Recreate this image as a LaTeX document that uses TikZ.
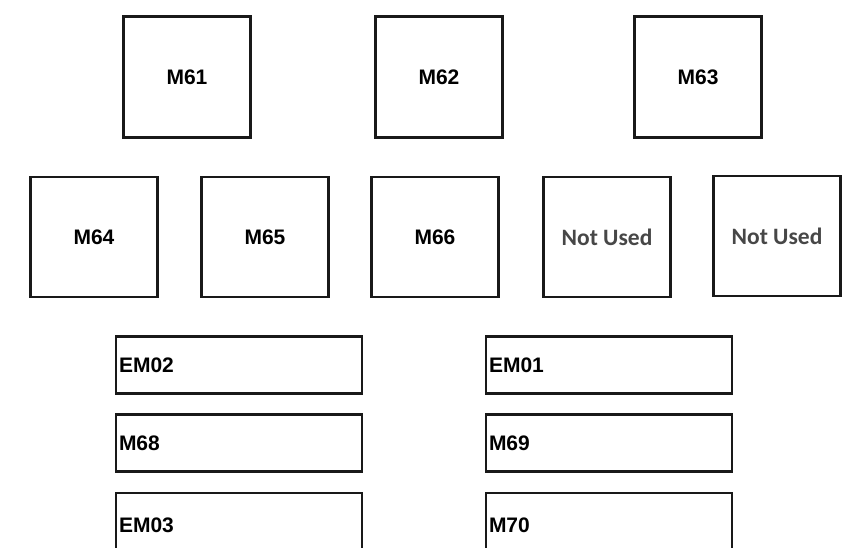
\documentclass[tikz,border=0pt]{standalone}
\usepackage{fontspec}
\setmainfont{Liberation Sans}
\newfontfamily\carlito{Carlito}
\begin{document}
\begin{tikzpicture}[x=1pt,y=-1pt,
  sq/.style={draw=black!90, line width=2.2pt, minimum width=127pt, minimum height=120pt, inner sep=0pt,
     font=\fontsize{21}{24}\selectfont\bfseries},
  nu/.style={sq, font=\carlito\fontsize{23.5}{26}\selectfont\bfseries, text=black!72},
  wide/.style={draw=black!90, line width=2.2pt, minimum height=57pt, text width=240pt, inner xsep=3pt,
     inner ysep=0pt, align=left, font=\fontsize{21}{24}\selectfont\bfseries}]
\path[use as bounding box] (0,0) rectangle (851,547);
\clip (0,0) rectangle (851,547);
\fill[white] (0,0) rectangle (851,547);
% top row
\node[sq, minimum height=121pt] (m61) at (187,77) {M61};
\node[sq, minimum height=121pt] (m62) at (439,77) {M62};
\node[sq, minimum height=121pt] (m63) at (698,77) {M63};
% second row
\node[sq] (m64) at (94,237) {M64};
\node[sq] (m65) at (265,237) {M65};
\node[sq] (m66) at (435,237) {M66};
\node[nu] (nu1) at (607,237) {Not Used};
\node[nu] (nu2) at (777,236) {Not Used};
% lower boxes
\node[wide] (em02) at (239,365) {EM02};
\node[wide] (em01) at (609,365) {EM01};
\node[wide] (m68) at (239,443) {M68};
\node[wide] (m69) at (609,443) {M69};
\node[wide, minimum height=64pt] (em03) at (239,525) {EM03};
\node[wide, minimum height=64pt] (m70) at (609,525) {M70};
\end{tikzpicture}
\end{document}
